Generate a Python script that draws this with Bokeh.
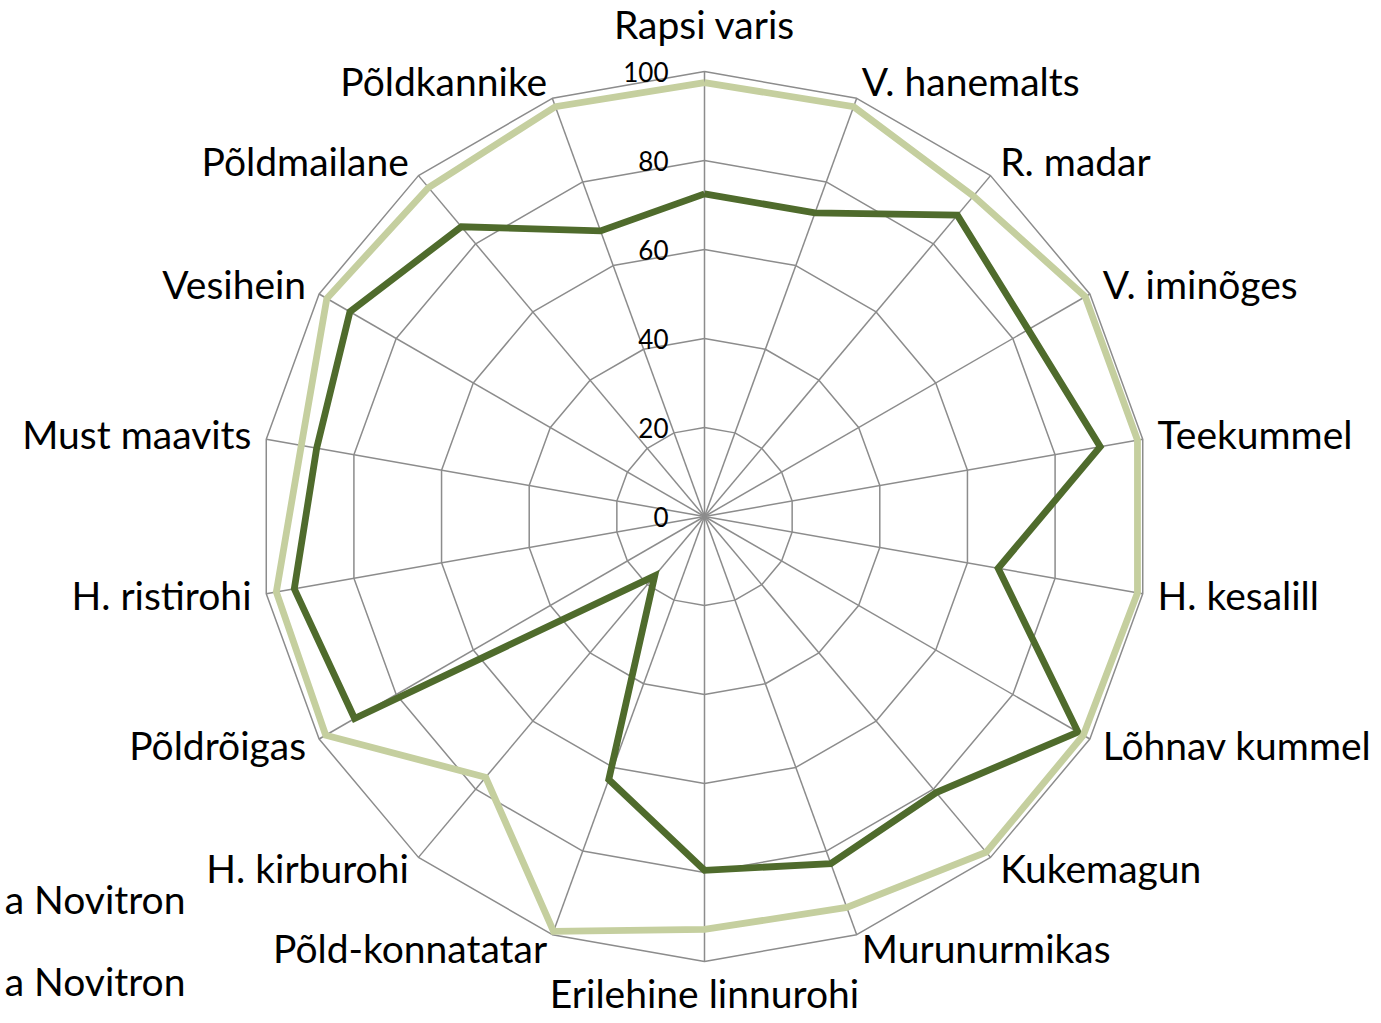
import math
from bokeh.plotting import figure
from bokeh.models import Range1d, ColumnDataSource
from bokeh.core.properties import value
from bokeh.embed import file_html
from bokeh.resources import INLINE

# ---------------- data ----------------
categories = ["Rapsi varis", "V. hanemalts", "R. madar", "V. iminõges", "Teekummel",
              "H. kesalill", "Lõhnav kummel", "Kukemagun", "Murunurmikas",
              "Erilehine linnurohi", "Põld-konnatatar", "H. kirburohi", "Põldrõigas",
              "H. ristirohi", "Must maavits", "Vesihein", "Põldmailane", "Põldkannike"]
series_dark = [72.5, 72.6, 88.4, 84.0, 90.3, 67.0, 96.9, 81.0, 83.0,
               79.5, 62.9, 17.4, 90.8, 93.6, 88.5, 92.0, 85.0, 68.3]
series_light = [97.5, 98.0, 94.0, 98.8, 98.8, 98.8, 98.3, 98.5, 93.5,
                92.8, 99.2, 76.5, 98.3, 97.7, 92.0, 98.0, 96.5, 98.0]
tick_values = [0, 20, 40, 60, 80, 100]
tick_labels = ["0", "20", "40", "60", "80", "100"]
legend_labels = ["a Novitron", "a Novitron"]

# ---------------- layout ----------------
W, H = 1373, 1015
S = 4.45            # pixels per value unit
CX, CY = 704, 516   # centre in figure pixels
RMAX = 100
FONT = "Lato"
LABEL_PX = 39
TICK_PX = 26
FIX = 0.36          # observed downward shift of the rendered baseline (em)
GRID = "#8c8c8c"
DARK = "#4f6b2c"
LIGHT = "#c5cf9f"

n = len(categories)
angles = [2 * math.pi * i / n for i in range(n)]

p = figure(width=W, height=H, output_backend="svg", toolbar_location=None,
           x_range=Range1d(-CX / S, (W - CX) / S),
           y_range=Range1d(-(H - CY) / S, CY / S), min_border=0)
p.axis.visible = False
p.grid.visible = False
p.outline_line_color = None
p.background_fill_color = "white"

# rings
ring_xs, ring_ys = [], []
for r in tick_values[1:]:
    ring_xs.append([r * math.sin(a) for a in angles] + [0])
    ring_ys.append([r * math.cos(a) for a in angles] + [r])
p.multi_line(ring_xs, ring_ys, line_color=GRID, line_width=1.5)
# spokes
p.segment(x0=[0] * n, y0=[0] * n,
          x1=[RMAX * math.sin(a) for a in angles],
          y1=[RMAX * math.cos(a) for a in angles],
          line_color=GRID, line_width=1.5)


def closed(vals):
    xs = [v * math.sin(a) for v, a in zip(vals, angles)]
    ys = [v * math.cos(a) for v, a in zip(vals, angles)]
    return xs + xs[:1], ys + ys[:1]


xd, yd = closed(series_dark)
p.line(xd, yd, line_color=DARK, line_width=6.8, line_join="miter")
xl, yl = closed(series_light)
p.line(xl, yl, line_color=LIGHT, line_width=6.8, line_join="miter")

# category labels (dy = wanted baseline below the ring vertex, in px)
lfix = FIX * LABEL_PX
lx, ly, la = [], [], []
for a in angles:
    sx, cy = math.sin(a), math.cos(a)
    if abs(sx) > 0.01:
        dx = 15 * sx
        dy = -16 * cy + 12
        align = "left" if sx > 0 else "right"
    else:
        dx = 0
        dy = -33 if cy > 0 else 46
        align = "center"
    lx.append(RMAX * sx + dx / S)
    ly.append(RMAX * cy - (dy - lfix) / S)
    la.append(align)
p.text(x="x", y="y", text="t", text_align="a",
       source=ColumnDataSource(dict(x=lx, y=ly, t=categories, a=la)),
       text_font=value(FONT), text_font_size=f"{LABEL_PX}px", text_color="black",
       text_baseline="alphabetic")

# radial tick labels
tfix = FIX * TICK_PX
p.text(x=[-36 / S] * len(tick_values), y=[v - (10 - tfix) / S for v in tick_values],
       text=tick_labels, text_align="right", text_baseline="alphabetic",
       text_font=value(FONT), text_font_size=f"{TICK_PX}px", text_color="black")

# legend (at the left edge as in the source)
leg_x = (185 - CX) / S
leg_y = [(CY - 913 + lfix) / S, (CY - 995 + lfix) / S]
p.text(x=[leg_x, leg_x], y=leg_y, text=legend_labels, text_align="right",
       text_baseline="alphabetic", text_font=value(FONT),
       text_font_size=f"{LABEL_PX}px", text_color="black")

open("out.html", "w").write(file_html(p, INLINE))
